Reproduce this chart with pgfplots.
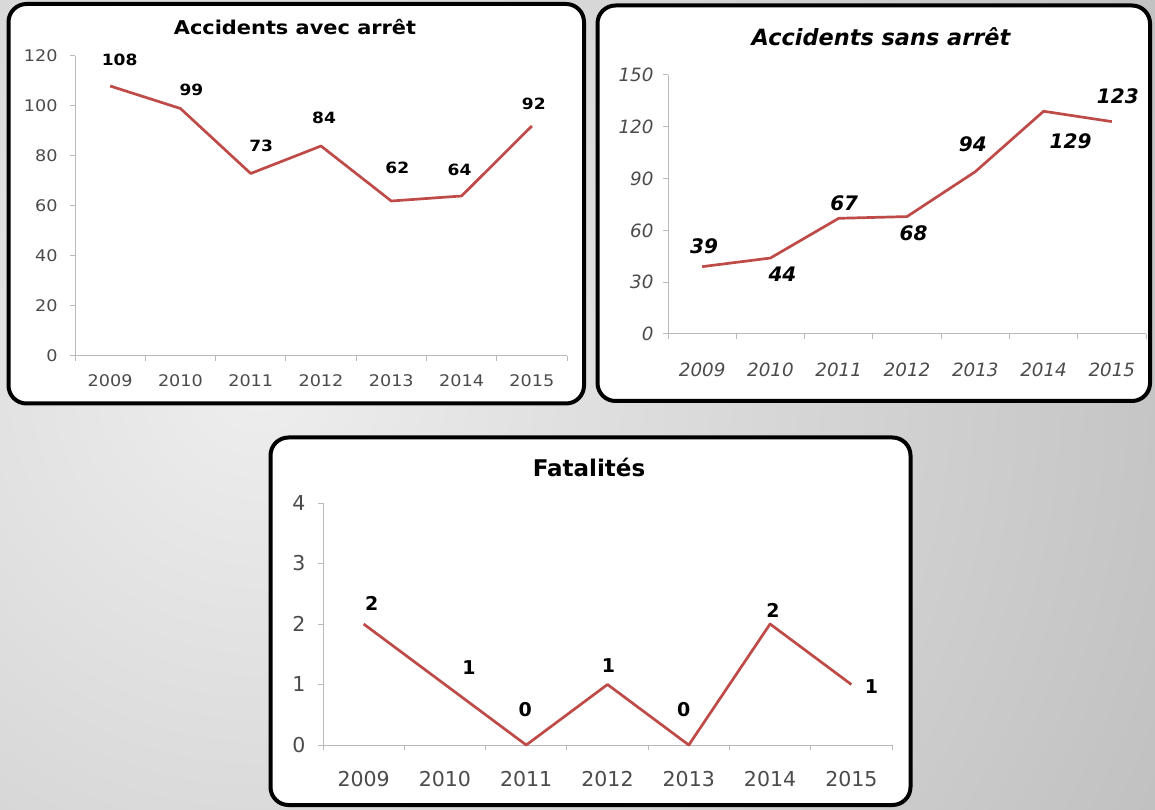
\documentclass[border=0pt]{standalone}
\usepackage{pgfplots}
\pgfplotsset{compat=1.18}
\usepackage{pgfplotstable}
\usepackage{fontspec}
\setmainfont{DejaVu Sans}
\newfontfamily\fa{DejaVu Sans}[FakeStretch=1.1]
\newfontfamily\fb{DejaVu Sans}

\definecolor{linered}{RGB}{190,75,72}
\definecolor{axisgray}{RGB}{185,185,185}
\definecolor{ticktext}{RGB}{75,75,75}
\definecolor{bgin}{RGB}{238,238,238}
\definecolor{bgout}{RGB}{172,172,172}

\pgfplotstableread{
x y dx dy
0 108 9.5 26
1 99 11 18.5
2 73 10.5 27.5
3 84 3 28
4 62 6 33
5 64 -2 26
6 92 2 22
}\dataA

\pgfplotstableread{
x y dx dy
0 39 2 20.6
1 44 12 -16
2 67 5.5 15
3 68 6.5 -16.5
4 94 -2.5 27
5 129 27 -30
6 123 6 25
}\dataB

\pgfplotstableread{
x y dx dy
0 2 8 21
1 1 24 16.5
2 0 -1 35
3 1 1 18.5
4 0 -5 35
5 2 3 14
6 1 20 -2.5
}\dataC

\pgfplotsset{
  base/.style={
    scale only axis, anchor=south west,
    xmin=-0.5, xmax=6.5, ymin=0,
    axis x line*=bottom, axis y line*=left,
    axis line style={draw=axisgray, line width=1pt},
    xtick={0,...,6}, xticklabels={2009,2010,2011,2012,2013,2014,2015},
    minor xtick={-0.5,0.5,...,6.5},
    tick align=outside, major tick length=5pt, minor tick length=5pt,
    tick style={axisgray, line width=1pt},
    major x tick style={draw=none},
    /pgf/number format/assume math mode=true,
    clip=false,
    ticklabel style={text=ticktext},
    xticklabel style={anchor=center},
    yticklabel style={anchor=east},
  },
  redline/.style={linered, line width=2.7pt, mark=none, line join=round,
    nodes near coords,
    visualization depends on={\thisrow{dx} \as \dx},
    visualization depends on={\thisrow{dy} \as \dy},
    every node near coord/.append style={text=black, anchor=center, xshift=\dx pt, yshift=\dy pt, inner sep=0pt}},
}

\begin{document}
\begin{tikzpicture}[x=1pt,y=1pt]
\begin{scope}
\clip (0,0) rectangle (1155,809);
\shade[inner color=bgin, outer color=bgout] (260,430) circle (1450pt);
\end{scope}

\draw[line width=4pt, rounded corners=18pt, fill=white] (8.5,805) rectangle (584,405.5);
\draw[line width=4pt, rounded corners=18pt, fill=white] (597.5,803.5) rectangle (1150,408);
\draw[line width=4pt, rounded corners=18pt, fill=white] (270.5,371.5) rectangle (910.5,4);

% Panel 1
\begin{axis}[base, at={(75pt,453pt)}, width=492pt, height=300pt, ymax=120,
  ytick={0,20,...,120},
  ticklabel style={font={\fa\fontsize{16}{18}\selectfont}},
  xticklabel style={yshift=-20pt},
  yticklabel style={xshift=-9pt}]
\addplot[redline, every node near coord/.append style={font={\fa\bfseries\fontsize{15.5}{18}\selectfont}}] table[x=x,y=y] {\dataA};
\end{axis}
\node[font={\fa\bfseries\fontsize{19}{22}\selectfont}] at (295,782) {Accidents avec arrêt};

% Panel 2
\begin{axis}[base, at={(668pt,475pt)}, width=478pt, height=259pt, ymax=150,
  ytick={0,30,...,150},
  ticklabel style={font={\fb\itshape\fontsize{18.3}{21}\selectfont}},
  xticklabel style={yshift=-31pt},
  yticklabel style={xshift=-6pt}]
\addplot[redline, every node near coord/.append style={font={\fb\bfseries\itshape\fontsize{20}{23}\selectfont}}] table[x=x,y=y] {\dataB};
\end{axis}
\node[font={\fb\bfseries\itshape\fontsize{22.4}{26}\selectfont}] at (881,772) {Accidents sans arrêt};

% Panel 3
\begin{axis}[base, at={(323pt,64pt)}, width=569pt, height=242pt, ymax=4,
  ytick={0,1,...,4},
  ticklabel style={font={\fb\fontsize{20.5}{24}\selectfont}},
  xticklabel style={yshift=-29pt},
  yticklabel style={xshift=-9pt}]
\addplot[redline, every node near coord/.append style={font={\fb\bfseries\fontsize{19}{22}\selectfont}}] table[x=x,y=y] {\dataC};
\end{axis}
\node[font={\fb\bfseries\fontsize{23}{26}\selectfont}] at (589,342) {Fatalités};

\pgfresetboundingbox
\path[use as bounding box] (0,0) rectangle (1155,809);
\end{tikzpicture}
\end{document}
